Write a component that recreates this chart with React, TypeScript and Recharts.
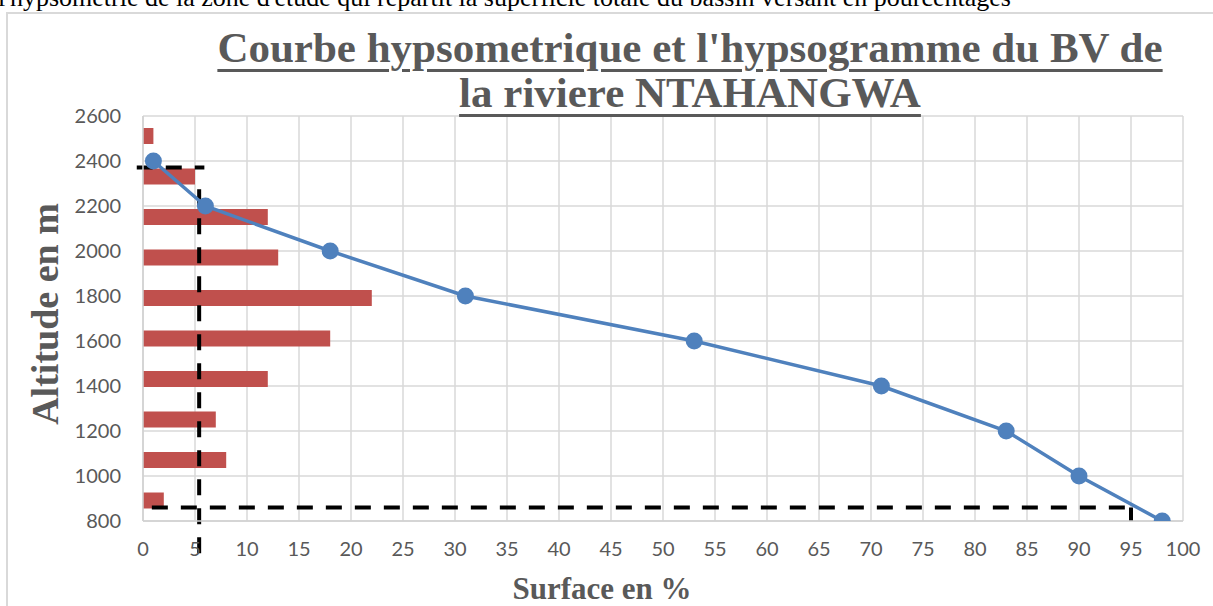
import React from "react";
import {
  ComposedChart,
  Bar,
  Scatter,
  XAxis,
  YAxis,
  ZAxis,
  CartesianGrid,
  ReferenceLine,
} from "recharts";

// Altitude classes (bars, hypsogramme), top to bottom
const altitudeClasses = [
  "2400-2600",
  "2200-2400",
  "2000-2200",
  "1800-2000",
  "1600-1800",
  "1400-1600",
  "1200-1400",
  "1000-1200",
  "800-1000",
  "<800",
];
const classSurfacePct = [1, 5, 12, 13, 22, 18, 12, 7, 8, 2];

// Hypsometric curve
const curveAltitude = [2400, 2200, 2000, 1800, 1600, 1400, 1200, 1000, 800];
const curveCumSurfacePct = [1, 6, 18, 31, 53, 71, 83, 90, 98];

// Axis ticks
const xTicks = [0, 5, 10, 15, 20, 25, 30, 35, 40, 45, 50, 55, 60, 65, 70, 75, 80, 85, 90, 95, 100];
const yTicks = [800, 1000, 1200, 1400, 1600, 1800, 2000, 2200, 2400, 2600];

// Guide lines (altitudes at 5% and 95%)
const pct5 = 5.4;
const alt5 = 2371;
const pct95 = 95;
const alt95 = 860;

const barData = altitudeClasses.map((c, i) => ({ cls: c, x: classSurfacePct[i] }));
const curveData = curveAltitude.map((a, i) => ({ x: curveCumSurfacePct[i], y: a }));

const GRID = "#d9d9d9";
const TXT = "#595959";
const BLUE = "#4f81bd";
const RED = "#c0504d";

export default function App() {
  const dash = { stroke: "#000", strokeWidth: 4, strokeDasharray: "16 13" };
  return (
    <div
      style={{
        position: "absolute",
        left: 0,
        top: 0,
        width: 1213,
        height: 606,
        background: "#fff",
        overflow: "hidden",
      }}
    >
      <div
        style={{
          position: "absolute",
          left: -2,
          top: -17,
          fontFamily: "'Liberation Serif', serif",
          fontSize: 26,
          lineHeight: "30px",
          whiteSpace: "nowrap",
          color: "#000",
        }}
      >
        l'hypsométrie de la zone d'étude qui répartit la superficie totale du bassin versant en pourcentages
      </div>
      <div
        style={{
          position: "absolute",
          left: 6,
          top: 12,
          width: 1300,
          height: 700,
          borderLeft: `2px solid ${GRID}`,
          borderTop: `2px solid ${GRID}`,
        }}
      />
      <div style={{ position: "absolute", left: 0, top: 0 }}>
        <ComposedChart
          layout="vertical"
          width={1213}
          height={606}
          data={barData}
          margin={{ top: 116, right: 30, bottom: 55, left: 63 }}
        >
          <CartesianGrid
            yAxisId="num"
            stroke={GRID}
            strokeWidth={1.5}
            horizontalValues={yTicks}
            verticalValues={xTicks}
          />
          <XAxis
            type="number"
            dataKey="x"
            domain={[0, 100]}
            ticks={xTicks}
            interval={0}
            allowDataOverflow
            height={30}
            stroke="#d0d0d0"
            strokeWidth={1.5}
            tickLine={false}
            tickSize={0}
            tickMargin={21}
            tick={{ fill: TXT, fontSize: 20, fontFamily: "Lato, sans-serif" }}
          />
          <YAxis
            yAxisId="num"
            type="number"
            dataKey="y"
            domain={[800, 2600]}
            ticks={yTicks}
            interval={0}
            reversed
            allowDataOverflow
            width={80}
            stroke="#d0d0d0"
            strokeWidth={1.5}
            tickLine={false}
            tickSize={0}
            tickMargin={22}
            tick={{ fill: TXT, fontSize: 20, fontFamily: "Lato, sans-serif" }}
          />
          <YAxis yAxisId="cat" type="category" dataKey="cls" hide width={0} />
          <ZAxis range={[227, 227]} />
          <Bar
            yAxisId="cat"
            dataKey="x"
            fill={RED}
            barSize={16}
            isAnimationActive={false}
          />
          <Scatter
            yAxisId="num"
            data={curveData}
            dataKey="y"
            fill={BLUE}
            line={{ stroke: BLUE, strokeWidth: 3.5 }}
            lineType="joint"
            shape="circle"
            isAnimationActive={false}
          />
          <ReferenceLine
            yAxisId="num"
            ifOverflow="visible"
            segment={[
              { x: -0.6, y: alt5 },
              { x: pct5 + 0.5, y: alt5 },
            ]}
            {...dash}
          />
          <ReferenceLine
            yAxisId="num"
            ifOverflow="visible"
            segment={[
              { x: pct5, y: 2275 },
              { x: pct5, y: 640 },
            ]}
            {...dash}
          />
          <ReferenceLine
            yAxisId="num"
            ifOverflow="visible"
            segment={[
              { x: 0.85, y: alt95 },
              { x: pct95, y: alt95 },
            ]}
            {...dash}
          />
          <ReferenceLine
            yAxisId="num"
            ifOverflow="visible"
            segment={[
              { x: pct95, y: alt95 },
              { x: pct95, y: 800 },
            ]}
            stroke="#000"
            strokeWidth={4}
          />
        </ComposedChart>
      </div>
      <div
        style={{
          position: "absolute",
          left: 190,
          top: 25,
          width: 1000,
          textAlign: "center",
          fontFamily: "'Liberation Serif', serif",
          fontWeight: "bold",
          fontSize: 43,
          lineHeight: "45px",
          color: TXT,
          whiteSpace: "nowrap",
          textDecoration: "underline",
          textDecorationThickness: "3px",
          textUnderlineOffset: "7px",
        }}
      >
        Courbe hypsometrique et l'hypsogramme du BV de
        <br />
        la riviere NTAHANGWA
      </div>
      <div
        style={{
          position: "absolute",
          left: 45,
          top: 314,
          transform: "translate(-50%, -50%) rotate(-90deg)",
          fontFamily: "'Liberation Serif', serif",
          fontWeight: "bold",
          fontSize: 38,
          color: TXT,
          whiteSpace: "nowrap",
        }}
      >
        Altitude en m
      </div>
      <div
        style={{
          position: "absolute",
          left: 602,
          top: 589,
          transform: "translate(-50%, -50%)",
          fontFamily: "'Liberation Serif', serif",
          fontWeight: "bold",
          fontSize: 31,
          color: TXT,
          whiteSpace: "nowrap",
        }}
      >
        Surface en %
      </div>
    </div>
  );
}
